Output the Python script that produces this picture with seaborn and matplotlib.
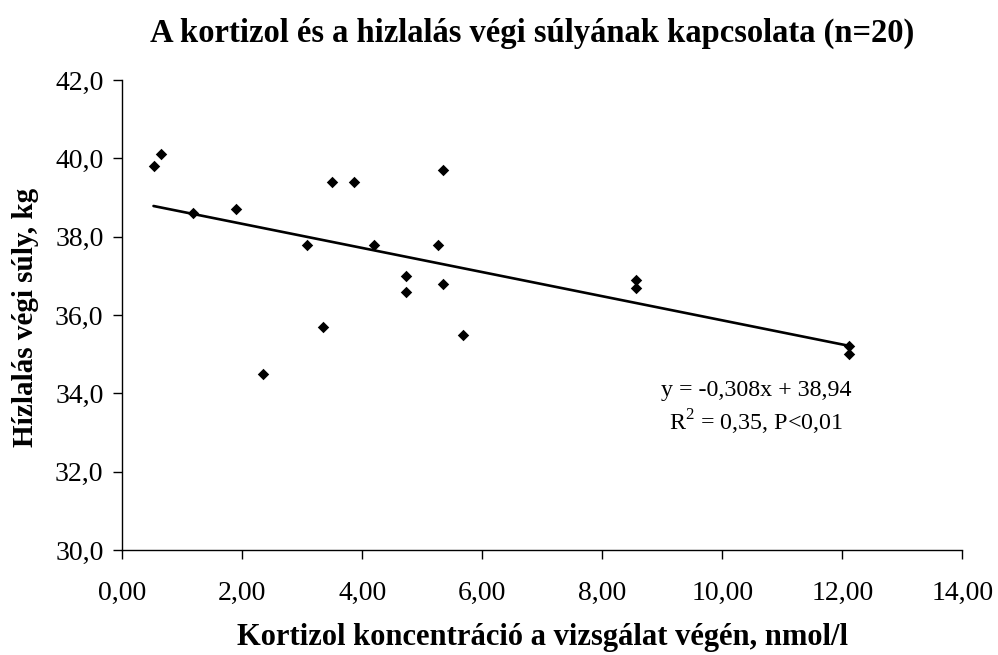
import matplotlib
matplotlib.use("Agg")
import matplotlib.pyplot as plt
import seaborn as sns
import pandas as pd

# ---- data ----
cortisol = [0.52, 0.65, 1.18, 1.89, 2.34, 3.07, 3.34, 3.49, 3.86, 4.20,
            4.73, 4.73, 5.26, 5.34, 5.34, 5.67, 8.56, 8.56, 12.12, 12.12]
weight = [39.8, 40.1, 38.6, 38.7, 34.5, 37.8, 35.7, 39.4, 39.4, 37.8,
          37.0, 36.6, 37.8, 39.7, 36.8, 35.5, 36.9, 36.7, 35.2, 35.0]

x_ticks = [0, 2, 4, 6, 8, 10, 12, 14]
x_tick_labels = ["0,00", "2,00", "4,00", "6,00", "8,00", "10,00", "12,00", "14,00"]
y_ticks = [30, 32, 34, 36, 38, 40, 42]
y_tick_labels = ["30,0", "32,0", "34,0", "36,0", "38,0", "40,0", "42,0"]

title = "A kortizol és a hizlalás végi súlyának kapcsolata (n=20)"
x_label = "Kortizol koncentráció a vizsgálat végén, nmol/l"
y_label = "Hízlalás végi súly, kg"
eq_line1 = "y = -0,308x + 38,94"
eq_line2 = "R$^2$ = 0,35, P<0,01"

df = pd.DataFrame({"x": cortisol, "y": weight})

sns.set_theme(style="white")
plt.rcParams["font.family"] = ["Liberation Serif", "DejaVu Serif"]
plt.rcParams["mathtext.fontset"] = "custom"
plt.rcParams["mathtext.rm"] = "Liberation Serif"
plt.rcParams["text.color"] = "black"

fig = plt.figure(figsize=(9.98, 6.55), dpi=100)
ax = fig.add_axes([122.3 / 998, 1 - 550 / 655, (962.3 - 122.3) / 998, 470 / 655])

sns.regplot(data=df, x="x", y="y", ax=ax, scatter=False, ci=None,
            line_kws={"color": "black", "lw": 1.9})
sns.scatterplot(data=df, x="x", y="y", ax=ax, marker="D", s=34,
                color="black", edgecolor="black", linewidth=0)

ax.set_xlim(0, 14)
ax.set_ylim(30, 42)
ax.set_xticks(x_ticks)
ax.set_xticklabels(x_tick_labels)
ax.set_yticks(y_ticks)
ax.set_yticklabels(y_tick_labels)

for s in ["top", "right"]:
    ax.spines[s].set_visible(False)
for s in ["left", "bottom"]:
    ax.spines[s].set_color("black")
    ax.spines[s].set_linewidth(1.0)

ax.tick_params(axis="both", which="major", direction="out", length=6.5,
               width=1.0, color="black", labelsize=20, labelcolor="black",
               bottom=True, left=True)
ax.tick_params(axis="x", pad=15.5)
ax.tick_params(axis="y", pad=7)

ax.set_xlabel(x_label, fontsize=22, fontweight="bold", color="black")
ax.set_ylabel(y_label, fontsize=21, fontweight="bold", color="black")
ax.xaxis.set_label_coords(0.5, (550 - 623) / 470)
ax.yaxis.set_label_coords((39 - 122.3) / 840, 0.494)

fig.text(532 / 998, 1 - 33 / 655, title, ha="center", va="center",
         fontsize=23.5, fontweight="bold", color="black")

fig.text(756 / 998, 1 - 391 / 655, eq_line1, ha="center", va="center",
         fontsize=17.3, color="black")
fig.text(756 / 998, 1 - 422 / 655, eq_line2, ha="center", va="center",
         fontsize=17.3, color="black")

fig.savefig("out.png", dpi=100, facecolor="white")
